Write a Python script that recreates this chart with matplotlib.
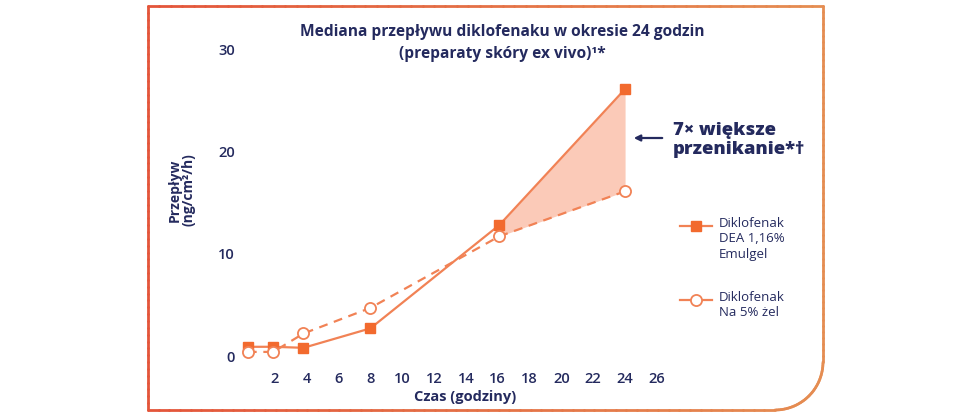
import numpy as np
import matplotlib
matplotlib.use("Agg")
import matplotlib.pyplot as plt
import matplotlib.colors as mcolors
from matplotlib.lines import Line2D
from matplotlib.patches import FancyArrowPatch
from matplotlib.collections import LineCollection

# data
hours = [0.3, 1.9, 3.8, 8, 16.1, 24]
emulgel = [0.9, 0.9, 0.8, 2.7, 12.8, 26.1]
na_gel = [0.4, 0.4, 2.2, 4.7, 11.7, 16.1]
x_ticks = [2, 4, 6, 8, 10, 12, 14, 16, 18, 20, 22, 24, 26]
y_ticks = [0, 10, 20, 30]

title = "Mediana przepływu diklofenaku w okresie 24 godzin\n(preparaty skóry ex vivo)¹*"
label_emulgel = "Diklofenak\nDEA 1,16%\nEmulgel"
label_na = "Diklofenak\nNa 5% żel"

NAVY = "#242a5e"
ORANGE = "#f26a2e"
LINE = "#f18255"
FILL = "#fbcab8"

plt.rcParams['font.family'] = ['Open Sans', 'DejaVu Sans']

W, H = 970, 416
fig = plt.figure(figsize=(W / 100, H / 100), dpi=100)

def fx(px):
    return px / W

def fy(py):
    return 1 - py / H

# axes placed so data 0 -> px 243, 1 unit = 15.92 px; y 0 -> px 356, 10 -> 102.3 px
x0, xs = 243, 15.92
y0, ys = 356, 10.23
xlim = (0, 28)
ylim = (-1, 31)
left = fx(x0)
width = (xlim[1] - xlim[0]) * xs / W
bottom = fy(y0 + (0 - ylim[0]) * ys)
height = (ylim[1] - ylim[0]) * ys / H
ax = fig.add_axes([left, bottom, width, height])
ax.set_xlim(*xlim)
ax.set_ylim(*ylim)
for s in ax.spines.values():
    s.set_visible(False)
ax.set_xticks(x_ticks)
ax.set_yticks(y_ticks)
ax.tick_params(length=0, labelsize=10.5, labelcolor=NAVY)
ax.tick_params(axis='x', pad=4)
ax.tick_params(axis='y', pad=6)
for lab in ax.get_xticklabels() + ax.get_yticklabels():
    lab.set_fontweight('semibold')

# shaded gap between the two curves from 16 h onwards
h = np.array(hours)
mask = h >= 16
ax.fill_between(h[mask], np.array(na_gel)[mask], np.array(emulgel)[mask],
                color=FILL, lw=0, zorder=1)

ax.plot(hours, emulgel, '-', color=LINE, lw=1.6, marker='s', ms=7,
        mfc=ORANGE, mec=ORANGE, zorder=3, clip_on=False)
ax.plot(hours, na_gel, '--', color=LINE, lw=1.6, dashes=(4, 3), marker='o', ms=8,
        mfc='white', mec=LINE, mew=1.3, zorder=3, clip_on=False)

fig.text(fx(465), fy(397), "Czas (godziny)", ha='center', va='center',
         fontsize=10.5, fontweight='bold', color=NAVY)
fig.text(fx(182), fy(190), "Przepływ\n(ng/cm²/h)", rotation=90, ha='center',
         va='center', fontsize=10, fontweight='bold', color=NAVY, linespacing=1.0)

fig.text(fx(502), fy(43), title, ha='center', va='center', fontsize=11.2,
         fontweight='bold', color=NAVY, linespacing=1.45)

# annotation
fig.text(fx(673), fy(140), "7× większe\nprzenikanie*†", ha='left', va='center',
         fontsize=13.2, fontweight='heavy', color=NAVY, linespacing=1.15)
fig.add_artist(FancyArrowPatch(
    (fx(665), fy(138)), (fx(631), fy(138)), transform=fig.transFigure,
    arrowstyle='-|>', mutation_scale=9, color=NAVY, lw=1.6))

# legend drawn by hand so the marker sits on the first text line
for ly, lab, kw in [(226, label_emulgel, dict(marker='s', ms=7, mfc=ORANGE, mec=ORANGE)),
                    (300, label_na, dict(marker='o', ms=8, mfc='white', mec=LINE, mew=1.3))]:
    fig.add_artist(Line2D([fx(680), fx(712)], [fy(ly), fy(ly)], transform=fig.transFigure,
                          color=LINE, lw=1.6))
    fig.add_artist(Line2D([fx(696)], [fy(ly)], transform=fig.transFigure, color=LINE, **kw))
    fig.text(fx(719), fy(ly - 9), lab, ha='left', va='top', fontsize=9.5,
             color=NAVY, linespacing=1.25)

# frame with rounded bottom-right corner and red -> orange gradient
L, T, R, B, rad = 148, 6, 823, 410, 48
pts = [(R, B - rad), (R, T), (L, T), (L, B), (R - rad, B)]
seg_pts = []
for (xa, ya), (xb, yb) in zip(pts[:-1], pts[1:]):
    seg_pts += [(xa + (xb - xa) * t, ya + (yb - ya) * t) for t in np.linspace(0, 1, 60)]
ang = np.linspace(np.pi / 2, 0, 40)
seg_pts += [(R - rad + rad * np.cos(a), B - rad + rad * np.sin(a)) for a in ang]
seg_pts = np.array(seg_pts)
xy = np.column_stack([fx(seg_pts[:, 0]), fy(seg_pts[:, 1])])
segs = np.stack([xy[:-1], xy[1:]], axis=1)
cmap = mcolors.LinearSegmentedColormap.from_list('frame', ['#e4553a', '#e58d52'])
cvals = (segs[:, :, 0].mean(axis=1) - fx(L)) / (fx(R) - fx(L))
lc = LineCollection(segs, colors=cmap(cvals), linewidths=2.0, transform=fig.transFigure,
                    capstyle='round')
fig.add_artist(lc)

fig.savefig("out.png", dpi=100)
